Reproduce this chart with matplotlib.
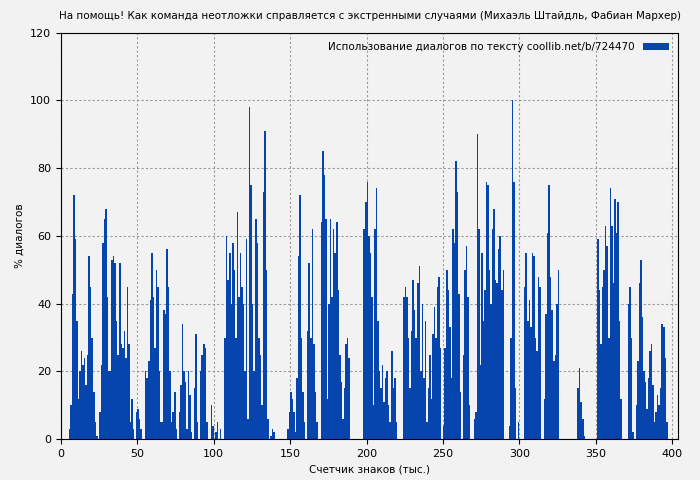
import numpy as np
import matplotlib.pyplot as plt

values = [
    0, 0, 0, 0, 0, 3, 10, 43, 72, 59, 35, 12, 20, 26, 22, 24, 16, 25, 54, 45,
    30, 14, 5, 1, 0, 8, 22, 58, 65, 68, 42, 20, 20, 53, 54, 52, 35, 25, 52, 28,
    27, 32, 24, 45, 28, 5, 12, 3, 0, 8, 9, 6, 3, 0, 0, 20, 18, 23, 41, 55,
    42, 27, 50, 45, 20, 5, 5, 38, 37, 56, 45, 20, 5, 8, 14, 3, 0, 8, 16, 34,
    20, 17, 3, 20, 13, 2, 0, 15, 31, 5, 0, 20, 25, 28, 27, 5, 0, 0, 10, 4,
    0, 2, 5, 0, 3, 0, 0, 30, 60, 47, 55, 40, 58, 50, 30, 67, 42, 55, 45, 40,
    20, 59, 6, 98, 75, 40, 20, 65, 58, 30, 25, 10, 73, 91, 50, 6, 0, 1, 3, 2,
    0, 0, 0, 0, 0, 0, 0, 0, 3, 8, 14, 12, 8, 2, 18, 54, 72, 30, 14, 5,
    0, 32, 52, 30, 62, 28, 14, 5, 0, 0, 64, 85, 78, 65, 12, 40, 65, 42, 62, 55,
    64, 44, 25, 17, 6, 15, 28, 30, 24, 0, 0, 0, 0, 0, 0, 0, 0, 0, 62, 70,
    76, 60, 55, 42, 10, 62, 74, 35, 20, 15, 22, 11, 18, 20, 10, 5, 26, 15, 18, 5,
    0, 0, 0, 0, 42, 45, 42, 30, 15, 32, 47, 38, 30, 46, 51, 20, 40, 18, 35, 5,
    15, 25, 12, 31, 39, 30, 45, 48, 27, 0, 4, 27, 50, 44, 33, 18, 62, 58, 82, 73,
    43, 14, 0, 25, 50, 57, 42, 10, 0, 0, 6, 8, 90, 62, 22, 55, 35, 44, 76, 75,
    50, 40, 62, 68, 47, 46, 56, 60, 44, 50, 0, 0, 0, 4, 30, 100, 76, 15, 0, 5,
    0, 0, 0, 45, 55, 35, 41, 33, 55, 54, 30, 26, 48, 45, 0, 0, 12, 37, 61, 75,
    48, 38, 23, 25, 40, 50, 0, 0, 0, 0, 0, 0, 0, 0, 0, 0, 0, 0, 15, 21,
    11, 6, 1, 0, 0, 0, 0, 0, 0, 0, 0, 59, 44, 28, 45, 50, 63, 57, 30, 74,
    63, 46, 71, 61, 70, 35, 12, 0, 0, 0, 0, 40, 45, 30, 2, 0, 10, 23, 46, 53,
    36, 20, 17, 9, 18, 26, 28, 16, 5, 8, 13, 10, 15, 34, 33, 24, 5, 0, 0, 0,
]
x = np.arange(len(values))

bg = '#f2f2f2'
fig = plt.figure(figsize=(7, 4.8), dpi=100, facecolor=bg)
ax = fig.add_axes([0.087, 0.085, 0.882, 0.847], facecolor=bg)

ax.bar(x, values, width=1.0, align='edge', color='#0645ad', linewidth=0,
       label='Использование диалогов по тексту coollib.net/b/724470')

ax.set_xlim(0, 404)
ax.set_ylim(0, 120)
ax.set_xticks(range(0, 401, 50))
ax.set_yticks(range(0, 121, 20))
ax.grid(True, color='#999999', linestyle=(0, (2, 2)), linewidth=0.8)
ax.set_axisbelow(True)
ax.tick_params(labelsize=8)
ax.set_xlabel('Счетчик знаков (тыс.)', fontsize=7.5)
ax.set_ylabel('% диалогов', fontsize=7.5)
ax.set_title('На помощь! Как команда неотложки справляется с экстренными случаями (Михаэль Штайдль, Фабиан Мархер)',
             fontsize=7.5, pad=10)
leg = ax.legend(loc='upper right', frameon=False, fontsize=7.5,
                handlelength=2.5, markerfirst=False)

fig.savefig('out.png', dpi=100, facecolor=bg)
